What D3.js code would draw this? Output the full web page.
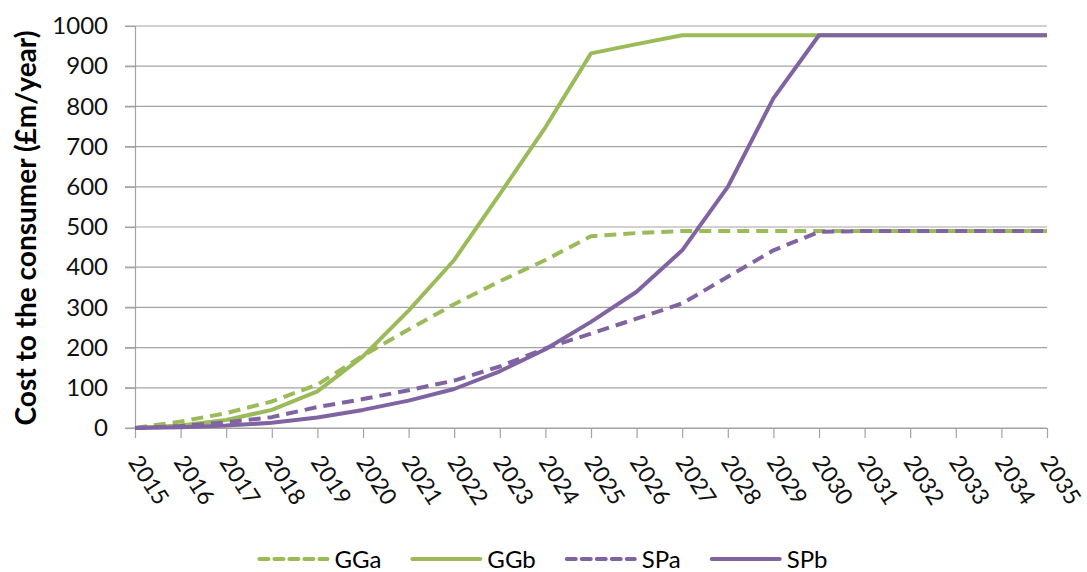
<!DOCTYPE html>
<html>
<head>
<meta charset="utf-8">
<script src="https://cdn.jsdelivr.net/npm/d3@7"></script>
<style>
  body { margin: 0; background: #fff; }
  svg { font-family: Lato, "Open Sans", sans-serif; }
</style>
</head>
<body>
<svg id="chart" width="1087" height="572"></svg>
<script>
"use strict"

// categories and series
const years = ["2015", "2016", "2017", "2018", "2019", "2020", "2021", "2022", "2023", "2024",
               "2025", "2026", "2027", "2028", "2029", "2030", "2031", "2032", "2033", "2034", "2035"]
const yTicks = [0, 100, 200, 300, 400, 500, 600, 700, 800, 900, 1000]

const ggA = [0, 16, 37, 66, 108, 180, 245, 308, 365, 418, 477, 485, 490, 490, 490, 490, 490, 490, 490, 490, 490]
const ggB = [0, 6, 20, 45, 91, 178, 292, 418, 582, 748, 932, 955, 977, 977, 977, 977, 977, 977, 977, 977, 977]
const spA = [0, 5, 14, 27, 52, 72, 94, 118, 153, 198, 235, 272, 310, 376, 442, 488, 490, 490, 490, 490, 490]
const spB = [0, 2, 6, 13, 26, 45, 68, 97, 141, 196, 264, 339, 442, 600, 820, 977, 977, 977, 977, 977, 977]

const seriesNames = ["GGa", "GGb", "SPa", "SPb"]
const seriesValues = [ggA, ggB, spA, spB]

const green = "#9bbb59", purple = "#8064a2"
const styles = [
    { color: green, dash: "12,7" },
    { color: green, dash: null },
    { color: purple, dash: "12,7" },
    { color: purple, dash: null }
]

const margin = { top: 26, right: 40, bottom: 144, left: 135 }
const width = 1087, height = 572
const svg = d3.select("#chart")

const x = d3.scalePoint()
    .domain(years)
    .range([margin.left, width - margin.right])

const y = d3.scaleLinear()
    .domain([0, 1000])
    .range([height - margin.bottom, margin.top])

const gridColor = "#a3a3a3"

// horizontal gridlines
svg.append("g")
    .selectAll("line")
    .data(yTicks)
    .enter().append("line")
        .attr("x1", margin.left - 10)
        .attr("x2", width - margin.right)
        .attr("y1", d => y(d))
        .attr("y2", d => y(d))
        .attr("stroke", gridColor)
        .attr("stroke-width", 1.2)

// y axis
const yAxis = svg.append("g")
    .attr("transform", "translate(" + margin.left + ",0)")
    .call(d3.axisLeft(y).tickValues(yTicks).tickFormat(d3.format("d")).tickSize(10).tickPadding(17))
yAxis.select(".domain").attr("stroke", gridColor).attr("stroke-width", 1.2)
yAxis.selectAll(".tick line").attr("stroke", gridColor).attr("stroke-width", 1.2)
yAxis.selectAll("text")
    .attr("font-family", "Lato, sans-serif")
    .attr("font-size", 24)
    .attr("fill", "#111")

// x axis
const xAxis = svg.append("g")
    .attr("transform", "translate(0," + y(0) + ")")
    .call(d3.axisBottom(x).tickSize(10).tickSizeOuter(0))
xAxis.select(".domain").attr("stroke", gridColor).attr("stroke-width", 1.2)
xAxis.selectAll(".tick line").attr("stroke", gridColor).attr("stroke-width", 1.2)
xAxis.selectAll("text")
    .attr("font-family", "Lato, sans-serif")
    .attr("font-size", 23)
    .attr("fill", "#111")
    .attr("y", 0)
    .attr("dy", 0)
    .attr("text-anchor", "start")
    .attr("transform", "translate(-8,34) rotate(57)")

// axis title
svg.append("text")
    .attr("transform", "translate(36," + ((y(0) + y(1000)) / 2 + 1) + ") rotate(-90)")
    .attr("text-anchor", "middle")
    .attr("font-weight", "bold")
    .attr("font-size", 28)
    .attr("fill", "#000")
    .text("Cost to the consumer (£m/year)")

// series lines
const line = d3.line()
    .x((d, i) => x(years[i]))
    .y(d => y(d))

svg.append("g")
    .selectAll("path")
    .data(seriesValues)
    .enter().append("path")
        .attr("d", d => line(d))
        .attr("fill", "none")
        .attr("stroke", (d, i) => styles[i].color)
        .attr("stroke-width", 4)
        .attr("stroke-dasharray", (d, i) => styles[i].dash)
        .attr("stroke-linejoin", "round")

// legend, centred under the whole chart
const legend = svg.append("g")
const legendY = 559
let cursor = 0
seriesNames.forEach((name, i) => {
    const g = legend.append("g")
    g.append("line")
        .attr("x1", 0).attr("x2", 68)
        .attr("y1", 0).attr("y2", 0)
        .attr("stroke", styles[i].color)
        .attr("stroke-width", 4)
        .attr("stroke-dasharray", styles[i].dash ? "9,6" : null)
        .attr("stroke-linecap", "round")
    const t = g.append("text")
        .attr("x", 75)
        .attr("y", 9)
        .attr("font-size", 24)
        .attr("fill", "#000")
        .text(name)
    const w = 75 + t.node().getComputedTextLength()
    g.attr("transform", "translate(" + cursor + "," + legendY + ")")
    cursor += w + 31
})
const legendWidth = cursor - 31
legend.attr("transform", "translate(" + (width / 2 - legendWidth / 2) + ",0)")
</script>
</body>
</html>
